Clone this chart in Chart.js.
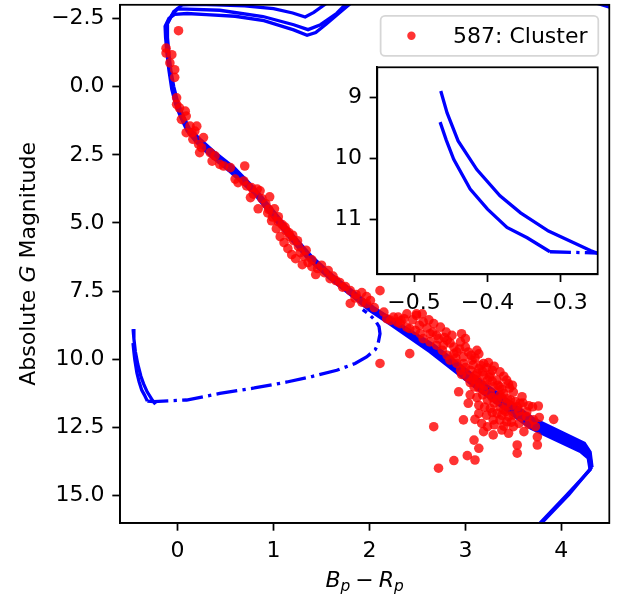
<!DOCTYPE html>
<html>
<head>
<meta charset="utf-8">
<script src="https://cdn.jsdelivr.net/npm/chart.js@4.4.1/dist/chart.umd.min.js"></script>
<style>
  html, body { margin: 0; padding: 0; background: #fff; }
  #wrap { position: relative; width: 622px; height: 598px; }
  #wrap canvas { position: absolute; left: 0; top: 0; }
  #inset { pointer-events: none; }
</style>
</head>
<body>
<div id="wrap">
  <canvas id="main" width="622" height="598"></canvas>
  <canvas id="inset" width="622" height="598"></canvas>
</div>
<script>
const FONT = "'DejaVu Sans', sans-serif";
const FS = 22;
const BLUE = "#0000ff";
const RED = "rgba(255, 0, 0, 0.8)";

const clusterLabel = "587: Cluster";

// cluster members: colour (Bp-Rp) and absolute G
const clusterBpRp = [
  0.01, -0.12, -0.12, -0.06, -0.08, -0.03, -0.03, -0.01, -0.01, 0.02,
  0.08, 0.04, 0.09, 0.13, 0.20, 0.09, 0.15, 0.18, 0.16, 0.27,
  0.22, 0.25, 0.23, 0.34, 0.39, 0.36, 0.44, 0.48, 0.55, 0.70,
  0.60, 0.63, 0.69, 0.72, 0.77, 0.83, 0.86, 0.79, 0.76,
  0.88, 0.92, 0.96, 0.84, 0.94, 1.01, 0.98, 1.05, 1.03, 1.09,
  1.13, 1.07, 1.17, 1.11, 1.21, 1.15, 1.26, 1.19, 1.28, 1.23,
  1.32, 1.36, 1.30, 1.40, 1.46, 1.44, 1.53, 1.57, 1.59, 1.65,
  1.69, 1.75, 1.80, 1.86, 1.92, 1.97, 2.01, 2.11, 1.80, 1.97,
  2.15, 2.25, 2.29, 2.36, 2.42, 2.49, 2.55, 2.56, 2.48, 2.67,
  2.74, 2.63, 2.70, 2.86, 2.81, 2.77, 2.96, 3.00, 2.95, 2.88,
  2.91, 3.03, 3.12, 2.98, 3.07, 3.16, 3.19, 3.28, 3.36, 3.33,
  3.23, 3.43, 3.49, 3.16, 3.09, 3.26, 3.36, 3.47, 3.59, 3.57,
  3.70, 3.76, 3.64, 3.50, 3.42, 3.33, 3.26, 3.14, 3.14, 2.98,
  3.17, 3.23, 3.19, 3.29, 3.38, 3.45, 3.50, 3.61, 3.73, 3.75,
  3.75, 3.54, 3.54, 3.09, 3.14, 3.10, 3.02, 2.88, 2.67, 2.72,
  2.42, 3.92, 3.77, 2.93, 3.03, 2.98, 3.05, 3.12, 3.19, 3.29,
  3.36, 3.40, 3.43, 3.33, 3.23, 3.19, 3.12, 3.02, 2.95, 2.91,
  2.84, 2.81, 2.76, 2.70, 2.63, 2.56, 2.53, 2.39, 2.32, 2.18,
  3.54, 3.64, 3.71, 3.29, 3.36, 3.43, 2.11, 2.22, 2.30, 2.39, 2.49,
  2.88, 2.94, 3.00, 3.06, 3.10, 2.90, 3.14,
  3.00, 3.08, 3.14, 3.22, 3.26, 3.10, 3.18, 3.30, 2.96, 3.24,
  3.05, 3.14, 3.20, 3.28, 3.34, 3.40, 3.45, 3.38, 3.25, 3.08,
  3.05, 3.12, 3.18, 3.28, 3.30, 3.38, 3.44, 3.50, 3.52, 3.46,
  3.20, 3.28, 3.36, 3.40, 3.48, 3.56, 3.60, 3.66, 3.22, 3.45,
  3.30, 3.40, 3.48, 3.56, 3.66, 3.58, 3.10, 3.38,
  2.33, 2.45, 2.52, 2.60, 2.66, 2.72, 2.78, 2.84, 2.62, 2.80,
  0.95, 1.05, 1.12, 1.20, 1.25, 1.34, 1.40, 1.50, 1.62, 1.72,
  1.85, 1.92, 2.05, 0.99, 1.16
];
const clusterMag = [
  -2.05, -1.41, -1.23, -1.17, -0.87, -0.62, -0.34, 0.41, 0.65, 0.78,
  0.90, 1.20, 1.08, 1.45, 1.45, 1.69, 1.69, 1.63, 1.93, 1.87,
  2.12, 2.24, 2.42, 2.42, 2.54, 2.73, 2.85, 2.91, 2.97, 2.91,
  3.39, 3.52, 3.46, 3.64, 3.70, 3.76, 3.82, 3.94, 4.07,
  4.11, 4.30, 4.04, 4.48, 4.63, 4.48, 4.92, 4.77, 5.21, 5.06,
  5.28, 5.50, 5.50, 5.72, 5.65, 5.94, 5.87, 6.16, 6.09, 6.31,
  6.23, 6.45, 6.53, 6.60, 6.67, 6.89, 6.82, 6.74, 7.04, 7.11,
  7.18, 7.33, 7.48, 7.62, 7.55, 7.70, 7.84, 7.48, 7.95, 7.96,
  8.27, 8.45, 8.63, 8.51, 8.87, 8.33, 8.33, 8.63, 8.94, 8.69,
  8.82, 9.06, 9.12, 9.12, 9.30, 9.48, 9.06, 9.24, 9.36, 9.55,
  9.73, 9.73, 9.67, 9.91, 10.03, 10.22, 10.15, 10.40, 10.46, 10.76,
  10.76, 10.76, 10.95, 10.88, 11.01, 11.25, 11.31, 11.49, 11.37, 11.61,
  11.74, 11.71, 11.92, 12.04, 11.92, 11.98, 11.80, 11.68, 11.98, 12.22,
  12.35, 12.47, 12.65, 12.77, 12.59, 12.71, 12.47, 12.65, 12.47, 12.84,
  13.14, 13.14, 13.44, 12.96, 13.26, 13.69, 13.53, 13.71, 12.47, 13.99,
  9.79, 12.20, 12.13, 11.19, 11.61, 10.15, 10.40, 10.52, 10.58, 11.01,
  11.01, 11.25, 11.61, 11.49, 11.49, 11.13, 10.76, 10.64, 10.40, 10.15,
  10.03, 9.85, 9.67, 9.48, 9.36, 9.24, 9.06, 8.82, 8.69, 8.51,
  11.74, 12.10, 12.22, 12.22, 12.22, 12.29, 10.15, 8.57, 8.45, 8.33, 8.39,
  9.80, 9.62, 9.55, 9.85, 9.95, 9.95, 9.80,
  10.30, 10.20, 10.35, 10.30, 10.55, 10.60, 10.45, 10.25, 10.55, 10.12,
  10.85, 11.05, 10.95, 10.80, 10.95, 10.62, 10.90, 11.10, 10.65, 10.72,
  11.30, 11.40, 11.30, 11.40, 11.60, 11.40, 11.45, 11.20, 11.55, 11.05,
  11.75, 11.95, 11.75, 11.85, 11.70, 11.90, 11.60, 11.70, 12.05, 12.10,
  12.40, 12.45, 12.30, 12.35, 12.38, 12.10, 12.20, 12.05,
  8.58, 8.55, 8.75, 8.85, 9.00, 9.25, 9.20, 9.40, 8.55, 9.00,
  4.50, 4.95, 5.15, 5.45, 5.65, 6.00, 6.35, 6.55, 6.95, 7.35,
  7.75, 7.90, 8.10, 4.78, 5.35
];

// isochrones (subgiant branch -> turn-off hook -> main sequence)
const iso1X = [1.82, 1.70, 1.55, 1.44, 1.35, 1.21, 0.90, 0.60, 0.30, 0.10, -0.03, -0.09, -0.13, -0.125, -0.11, -0.09, -0.06, -0.02, 0.03, 0.10, 0.20, 0.35, 0.55, 0.80, 0.98, 1.17, 1.37, 1.58, 1.80, 2.00, 2.22, 2.63, 3.16, 3.68, 4.20, 4.28, 4.30, 4.05, 3.78, 3.70];
const iso1Y = [-3.10, -2.75, -2.30, -1.98, -1.88, -2.08, -2.42, -2.58, -2.64, -2.68, -2.65, -2.50, -2.21, -1.80, -1.20, -0.60, 0.10, 0.65, 1.10, 1.62, 2.05, 2.55, 3.12, 3.92, 4.72, 5.55, 6.35, 7.02, 7.62, 8.20, 8.72, 9.72, 11.18, 12.52, 13.38, 13.62, 14.05, 15.00, 16.00, 16.30];
const iso2X = [1.76, 1.66, 1.49, 1.36, 1.21, 0.89, 0.44, 0.10, 0.00, -0.06, -0.12, -0.115, -0.10, -0.08, -0.05, -0.01, 0.04, 0.11, 0.22, 0.37, 0.57, 0.81, 1.00, 1.19, 1.39, 1.60, 1.82, 2.02, 2.24, 2.65, 3.18, 3.70, 4.22, 4.29, 4.31, 4.08, 3.80, 3.72];
const iso2Y = [-3.05, -2.69, -2.27, -2.09, -2.27, -2.57, -2.80, -2.84, -2.85, -2.62, -2.24, -1.80, -1.20, -0.60, 0.05, 0.60, 1.05, 1.57, 2.00, 2.48, 3.04, 3.85, 4.66, 5.49, 6.29, 6.96, 7.57, 8.15, 8.66, 9.60, 11.04, 12.36, 13.22, 13.50, 13.98, 14.95, 15.98, 16.30];
const iso3X = [1.55, 1.42, 1.33, 1.20, 1.00, 0.70, 0.40, 0.20, 0.05, -0.04, -0.11, -0.105, -0.09, -0.07, -0.04, 0.00, 0.05, 0.12, 0.24, 0.39, 0.59, 0.82, 1.01, 1.20, 1.40, 1.61, 1.83, 2.04, 2.26, 2.67, 3.20, 3.72, 4.24, 4.30, 4.32];
const iso3Y = [-3.05, -2.72, -2.55, -2.70, -2.86, -2.96, -3.00, -3.02, -3.00, -2.75, -2.27, -1.80, -1.20, -0.60, 0.00, 0.55, 1.00, 1.52, 1.95, 2.42, 2.97, 3.80, 4.61, 5.44, 6.24, 6.91, 7.51, 8.09, 8.60, 9.48, 10.90, 12.20, 13.08, 13.40, 13.95];
// extra tracks filling the lower main-sequence band
const iso4X = [2.00, 2.23, 2.64, 3.17, 3.69, 4.21, 4.285, 4.305];
const iso4Y = [8.17, 8.69, 9.66, 11.11, 12.44, 13.30, 13.56, 14.02];
const iso5X = [2.03, 2.25, 2.66, 3.19, 3.71, 4.23, 4.295, 4.315];
const iso5Y = [8.12, 8.56, 9.54, 10.97, 12.28, 13.15, 13.45, 13.96];
const tipX = [4.33, 4.56];
const tipY = [-3.10, -2.85];

// white dwarf cooling tracks
const wdAX = [-0.4636, -0.455, -0.44, -0.4145, -0.383, -0.355, -0.317, -0.26, -0.23];
const wdAY = [8.89, 9.25, 9.71, 10.18, 10.61, 10.89, 11.19, 11.51, 11.65];
const wdBX = [-0.4645, -0.456, -0.446, -0.4236, -0.40, -0.3735, -0.346, -0.315];
const wdBY = [9.40, 9.70, 10.01, 10.50, 10.83, 11.13, 11.30, 11.53];
const wdDashX = [-0.315, -0.25, -0.10, 0.094, 0.44, 0.80, 1.14, 1.40, 1.66, 1.85, 1.97, 2.06, 2.09, 2.11, 2.10, 2.06, 1.99, 1.93];
const wdDashY = [11.53, 11.55, 11.52, 11.49, 11.25, 11.05, 10.83, 10.63, 10.40, 10.15, 9.91, 9.65, 9.42, 9.06, 8.80, 8.57, 8.33, 8.18];

const mainXTicks = [0, 1, 2, 3, 4];
const mainYTicks = [-2.5, 0, 2.5, 5, 7.5, 10, 12.5, 15];
const insetXTicks = [-0.5, -0.4, -0.3];
const insetYTicks = [9, 10, 11];

function pts(xs, ys) {
  return xs.map((x, i) => ({ x: x, y: ys[i] }));
}

function fmt(v, dec) {
  const s = Math.abs(v).toFixed(dec);
  return v < 0 ? "\u2212" + s : s;
}

function lineSet(label, xs, ys, dash) {
  return {
    label: label,
    data: pts(xs, ys),
    showLine: true,
    pointRadius: 0,
    borderColor: BLUE,
    borderWidth: 3.3,
    borderDash: dash || [],
    fill: false,
    tension: 0,
    clip: 0
  };
}

function axis(o) {
  return {
    type: "linear",
    position: o.position,
    min: o.min,
    max: o.max,
    reverse: !!o.reverse,
    afterBuildTicks: s => { s.ticks = o.ticks.map(v => ({ value: v })); },
    afterFit: s => {
      if (o.width !== undefined) s.width = o.width;
      if (o.height !== undefined) s.height = o.height;
      s.paddingTop = 0; s.paddingBottom = 0; s.paddingLeft = 0; s.paddingRight = 0;
    },
    ticks: {
      color: "#000",
      font: { family: FONT, size: FS },
      padding: 7.7,
      autoSkip: false,
      maxRotation: 0,
      minRotation: 0,
      callback: v => fmt(v, o.dec)
    },
    grid: { drawOnChartArea: false, drawTicks: true, tickLength: 7.7, tickWidth: 1.75, tickColor: "#000" },
    border: { display: true, color: "#000", width: 1.75 }
  };
}

const framePlugin = {
  id: "frame",
  afterDraw(chart) {
    const { ctx, chartArea: a } = chart;
    ctx.save();
    ctx.strokeStyle = "#000";
    ctx.lineWidth = 1.75;
    ctx.strokeRect(a.left, a.top, a.right - a.left, a.bottom - a.top);
    ctx.restore();
  }
};

const whitePlugin = {
  id: "white",
  beforeDraw(chart) {
    const { ctx, chartArea: a } = chart;
    ctx.save();
    ctx.fillStyle = "#fff";
    ctx.fillRect(a.left, a.top, a.right - a.left, a.bottom - a.top);
    ctx.restore();
  }
};

function runFont(r) {
  return (r.italic ? "italic " : "") + (r.size || FS) + "px " + FONT;
}

function drawRuns(ctx, runs, cx, baseline) {
  const widths = runs.map(r => {
    ctx.font = runFont(r);
    return ctx.measureText(r.text).width + (r.gap || 0) * 2;
  });
  let x = cx - widths.reduce((a, b) => a + b, 0) / 2;
  runs.forEach((r, i) => {
    ctx.font = runFont(r);
    ctx.fillText(r.text, x + (r.gap || 0), baseline + (r.dy || 0));
    x += widths[i];
  });
}

const titlesPlugin = {
  id: "titles",
  afterDraw(chart) {
    const { ctx, chartArea: a } = chart;
    ctx.save();
    ctx.fillStyle = "#000";
    ctx.textAlign = "left";
    ctx.textBaseline = "alphabetic";
    drawRuns(ctx, [
      { text: "B", italic: true },
      { text: "p", italic: true, size: 15.4, dy: 3.5 },
      { text: "\u2212", gap: 5 },
      { text: "R", italic: true },
      { text: "p", italic: true, size: 15.4, dy: 3.5 }
    ], (a.left + a.right) / 2, 587);

    ctx.translate(28, (a.top + a.bottom) / 2);
    ctx.rotate(-Math.PI / 2);
    drawRuns(ctx, [
      { text: "Absolute " },
      { text: "G", italic: true },
      { text: " Magnitude" }
    ], 0, 7);
    ctx.restore();
  }
};

const legendPlugin = {
  id: "boxLegend",
  afterDraw(chart) {
    const { ctx, chartArea: a } = chart;
    const ds = chart.data.datasets[0];
    ctx.save();
    ctx.font = FS + "px " + FONT;
    const tw = ctx.measureText(ds.label).width;
    const w = (0.4 + 2 + 0.8 + 0.4) * FS + tw + 4;
    const h = 40;
    const x = a.right - 0.5 * FS - w;
    const y = a.top + 0.5 * FS;
    ctx.beginPath();
    ctx.roundRect(x, y, w, h, 4.4);
    ctx.fillStyle = "rgba(255, 255, 255, 0.8)";
    ctx.fill();
    ctx.strokeStyle = "rgba(204, 204, 204, 0.8)";
    ctx.lineWidth = 1.75;
    ctx.stroke();
    ctx.beginPath();
    ctx.arc(x + 1.4 * FS, y + h / 2, 4.2, 0, Math.PI * 2);
    ctx.fillStyle = ds.backgroundColor;
    ctx.fill();
    ctx.fillStyle = "#000";
    ctx.textAlign = "left";
    ctx.textBaseline = "middle";
    ctx.fillText(ds.label, x + 3.2 * FS + 2, y + h / 2 + 1);
    ctx.restore();
  }
};

const common = {
  responsive: false,
  animation: false,
  events: [],
  plugins: { legend: { display: false }, tooltip: { enabled: false } }
};

new Chart(document.getElementById("main"), {
  type: "scatter",
  data: {
    datasets: [
      {
        label: clusterLabel,
        data: pts(clusterBpRp, clusterMag),
        pointRadius: 4.8,
        pointBorderWidth: 0,
        backgroundColor: RED,
        borderColor: RED,
        clip: 0
      },
      lineSet("iso1", iso1X, iso1Y),
      lineSet("iso2", iso2X, iso2Y),
      lineSet("iso3", iso3X, iso3Y),
      lineSet("iso4", iso4X, iso4Y),
      lineSet("iso5", iso5X, iso5Y),
      lineSet("tip", tipX, tipY),
      lineSet("wdA", wdAX, wdAY),
      lineSet("wdB", wdBX, wdBY),
      lineSet("wdDash", wdDashX, wdDashY, [21, 5.3, 3.3, 5.3])
    ]
  },
  options: Object.assign({}, common, {
    layout: { padding: { left: 0, top: 4, right: 12.7, bottom: 0 } },
    scales: {
      x: axis({ position: "bottom", min: -0.6, max: 4.5, ticks: mainXTicks, dec: 0, height: 75 }),
      y: axis({ position: "left", min: -3, max: 16, reverse: true, ticks: mainYTicks, dec: 1, width: 120 })
    }
  }),
  plugins: [framePlugin, titlesPlugin, legendPlugin]
});

new Chart(document.getElementById("inset"), {
  type: "scatter",
  data: {
    datasets: [
      lineSet("wdA", wdAX, wdAY),
      lineSet("wdB", wdBX, wdBY),
      lineSet("wdDash", wdDashX, wdDashY, [21, 5.3, 3.3, 5.3])
    ]
  },
  options: Object.assign({}, common, {
    layout: { padding: { left: 337.3, top: 67.3, right: 24.3, bottom: 283.7 } },
    scales: {
      x: axis({ position: "bottom", min: -0.55, max: -0.25, ticks: insetXTicks, dec: 1, height: 40 }),
      y: axis({ position: "left", min: 8.5, max: 11.9, reverse: true, ticks: insetYTicks, dec: 0, width: 40 })
    }
  }),
  plugins: [whitePlugin, framePlugin]
});
</script>
</body>
</html>
